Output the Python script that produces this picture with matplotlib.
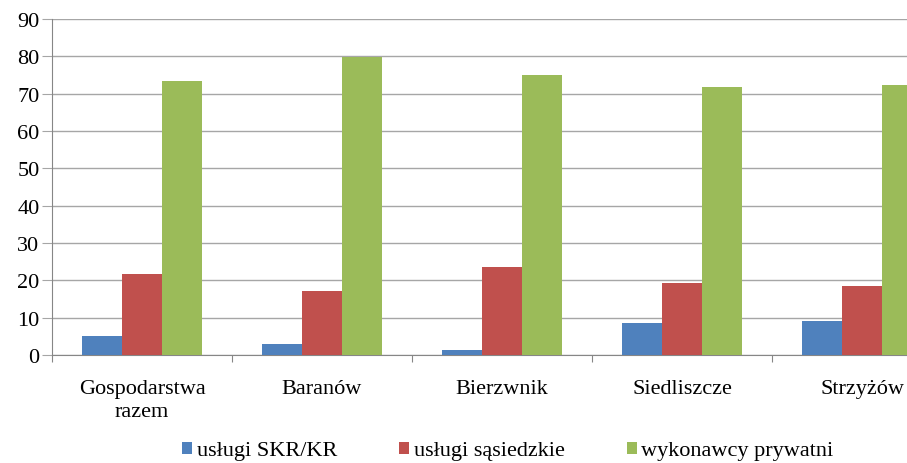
import matplotlib.pyplot as plt
import numpy as np

categories = ["Gospodarstwa\nrazem", "Baranów", "Bierzwnik", "Siedliszcze", "Strzyżów"]
series_names = ["usługi SKR/KR", "usługi sąsiedzkie", "wykonawcy prywatni"]
skr_kr = [5.0, 3.0, 1.3, 8.6, 9.0]
sasiedzkie = [21.6, 17.1, 23.6, 19.2, 18.4]
prywatni = [73.3, 79.8, 75.0, 71.9, 72.2]
colors = ["#4F81BD", "#C0504D", "#9BBB59"]

plt.rcParams["font.family"] = ["Liberation Serif", "DejaVu Serif"]

fig = plt.figure(figsize=[9.07, 4.64], dpi=100)
ax = fig.add_axes([52 / 907, 108 / 464, 900 / 907, 336 / 464])

x = np.arange(len(categories))
width = 0.222
for i, (vals, name) in enumerate(zip([skr_kr, sasiedzkie, prywatni], series_names)):
    ax.bar(x + (i - 1) * width, vals, width, color=colors[i], label=name, zorder=3)

ax.set_xlim(-0.5, len(categories) - 0.5)
ax.set_ylim(0, 90)
ax.set_yticks(np.arange(0, 91, 10))
ax.grid(axis="y", color="#a6a6a6", linewidth=1, zorder=0)

ax.set_xticks(np.arange(-0.5, len(categories), 1.0))
ax.set_xticklabels([])
ax.set_xticks(x, minor=True)
ax.set_xticklabels(categories, minor=True, fontsize=16, linespacing=1.3)
ax.tick_params(axis="x", which="minor", length=0, pad=17)
ax.tick_params(axis="x", which="major", length=5, color="#868686", direction="out")
ax.tick_params(axis="y", length=7, color="#a6a6a6", labelsize=16, pad=2)

for s in ["top", "right"]:
    ax.spines[s].set_visible(False)
ax.spines["left"].set_color("#868686")
ax.spines["bottom"].set_color("#868686")

fig.legend(
    loc="center",
    bbox_to_anchor=(508 / 907, 1 - 452 / 464),
    ncol=3,
    frameon=False,
    fontsize=16,
    handlelength=0.45,
    handleheight=0.45,
    handletextpad=0.2,
    columnspacing=2.8,
)

plt.savefig("out.png", dpi=100)
plt.close()
